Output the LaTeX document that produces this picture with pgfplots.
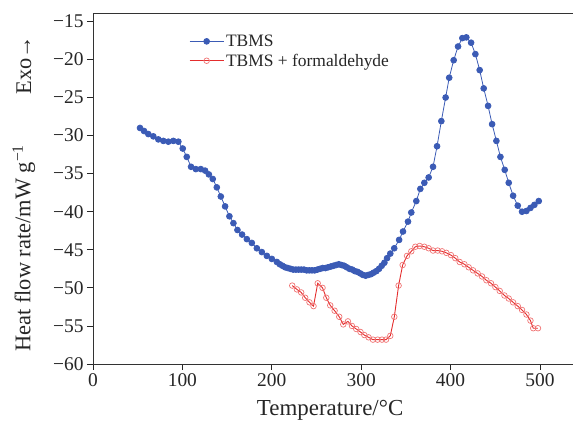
\documentclass[border=0pt]{standalone}
\usepackage{fontspec}
\setmainfont{Liberation Serif}
\usepackage{pgfplots}
\pgfplotsset{compat=1.18}
\usetikzlibrary{calc}
\definecolor{tblue}{RGB}{59,91,181}
\definecolor{tred}{RGB}{228,45,45}
\definecolor{tpink}{RGB}{240,115,115}
\begin{document}
\begin{tikzpicture}
\begin{axis}[
  scale only axis, width=480bp, height=351bp,
  xmin=0, xmax=537, ymin=-60, ymax=-13.9,
  clip=false,
  axis x line*=box, axis y line*=left,
  xtick={0,100,200,300,400,500},
  ytick={-60,-55,-50,-45,-40,-35,-30,-25,-20,-15},
  yticklabels={−60,−55,−50,−45,−40,−35,−30,−25,−20,−15},
  xticklabels={0,100,200,300,400,500},
  xtick pos=left, ytick pos=left,
  tick align=outside, major tick length=6bp,
  tick style={black!85, line width=0.8pt},
  axis line style={black!80, line width=1pt},
  ticklabel style={font=\fontsize{19.5}{19.5}\selectfont, text=black!85},
  xlabel={Temperature/°C},
  xlabel style={font=\fontsize{23}{23}\selectfont, text=black!85, at={(axis description cs:0.494,-0.131)}, anchor=center},
  legend style={at={(axis description cs:0.200,0.944)}, anchor=north west, draw=none, fill=none,
    font=\fontsize{17.5}{17.5}\selectfont, inner sep=0pt, row sep=2pt, text=black!85},
  legend cell align=left,
  legend image code/.code={\draw[mark repeat=2,mark phase=2] plot coordinates {(0bp,0bp) (17bp,0bp) (34bp,0bp)};},
]
\addplot[color=tblue, line width=0.8pt, mark=*, mark size=2.9bp, mark options={fill=tblue, draw=tblue, solid}] coordinates {
(52.6,-29.0) (57.1,-29.4) (61.9,-29.8) (67.5,-30.1) (73.1,-30.5) (78.7,-30.7) (84.3,-30.8) (89.9,-30.7)
(95.5,-30.8) (100.4,-31.7) (104.9,-32.8) (109.7,-34.1) (115.0,-34.4) (120.6,-34.4) (125.4,-34.6) (129.6,-35.1)
(134.0,-35.7) (138.5,-36.8) (143.0,-38.0) (147.8,-39.3) (152.6,-40.6) (157.1,-41.5) (161.6,-42.4) (166.8,-43.0)
(172.1,-43.6) (177.7,-44.1) (183.3,-44.8) (188.9,-45.3) (194.5,-45.8) (200.1,-46.2) (205.7,-46.6)
(209,-46.9) (212,-47.1) (215,-47.3) (218,-47.4) (221,-47.5) (224,-47.6) (227,-47.6) (230,-47.6) (233,-47.6)
(236,-47.6) (239,-47.7) (242,-47.7) (245,-47.7) (248,-47.7) (251,-47.6) (254,-47.5) (257,-47.4) (260,-47.4)
(263,-47.3) (266,-47.2) (269,-47.1) (272,-47.0) (275,-46.9) (278,-47.0) (281,-47.1) (284,-47.3) (287,-47.5)
(290,-47.6) (293,-47.8) (296,-47.9) (299,-48.1) (302,-48.3) (305,-48.4) (308,-48.3) (311,-48.2) (314,-48.0)
(317,-47.8) (320,-47.5) (323,-47.1) (326,-46.7) (329,-46.1) (332.6,-45.5) (337.0,-44.8) (342.5,-43.7)
(346.8,-42.6) (352.4,-41.3) (356.1,-40.1) (361.7,-38.6) (366.2,-37.0) (370.7,-36.2) (375.5,-35.5) (380.4,-34.1)
(384.9,-31.4) (389.7,-28.1) (394.5,-25.0) (398.5,-22.4) (403.5,-20.1) (408.4,-18.3) (413.2,-17.2) (417.7,-17.1)
(423.0,-17.8) (427.8,-19.3) (432.6,-21.4) (437.1,-23.8) (442.0,-26.1) (446.5,-28.5) (451.3,-30.7) (455.8,-32.8)
(460.6,-34.5) (465.1,-36.2) (470.0,-37.9) (475.2,-39.2) (480.0,-40.0) (484.9,-39.9) (489.4,-39.5) (493.8,-39.1)
(498.7,-38.6)
};
\addlegendentry{TBMS}
\addplot[color=tred, line width=0.9pt, mark=o, mark size=2.8bp, mark options={draw=tpink, fill=white, line width=0.7pt, solid}] coordinates {
(222.9,-49.7) (228.1,-50.2) (232.9,-50.6) (237.4,-51.3) (242.2,-51.9) (246.7,-52.4) (251.4,-49.4) (256.8,-50.0)
(261.0,-51.3) (265.4,-52.3) (270.3,-53.0) (275.5,-53.8) (280.0,-54.8) (285.2,-54.4) (289.7,-55.0) (294.5,-55.4)
(299.3,-55.8) (303.6,-56.2) (308.3,-56.5) (313.2,-56.8) (318.4,-56.8) (323.3,-56.8) (327.8,-56.8) (332.6,-56.3)
(337.1,-53.8) (341.9,-49.7) (346.4,-47.0) (351.3,-45.8) (356.1,-45.2) (360.6,-44.6) (365.4,-44.5) (370.7,-44.6)
(375.5,-44.8) (380.4,-45.1) (385.6,-45.1) (390.5,-45.2) (395.3,-45.4) (400.5,-45.7) (405.3,-46.1) (410.2,-46.6)
(415.5,-46.9) (420.3,-47.3) (425.2,-47.7) (430.3,-48.1) (435.2,-48.5) (440.1,-49.0) (445.3,-49.4) (450.2,-49.9)
(455.0,-50.4) (460.3,-51.0) (465.1,-51.4) (470.0,-51.9) (475.2,-52.4) (480.0,-52.9) (484.9,-53.5) (489.4,-54.3)
(492.5,-55.3) (497.8,-55.3)
};
\addlegendentry{TBMS + formaldehyde}
\node[rotate=90, anchor=center, font=\fontsize{22.5}{22.5}\selectfont, text=black!85] at (axis description cs:-0.144,0.330) {Heat flow rate/mW g\textsuperscript{−1}};
\node[rotate=90, anchor=center, font=\fontsize{22.5}{22.5}\selectfont, text=black!85] at (axis description cs:-0.144,0.852) {Exo→};
\end{axis}
\pgfresetboundingbox
\path[use as bounding box] ($(current axis.south west)+(-93bp,-59bp)$) rectangle ($(current axis.north east)+(1bp,13bp)$);
\end{tikzpicture}
\end{document}
